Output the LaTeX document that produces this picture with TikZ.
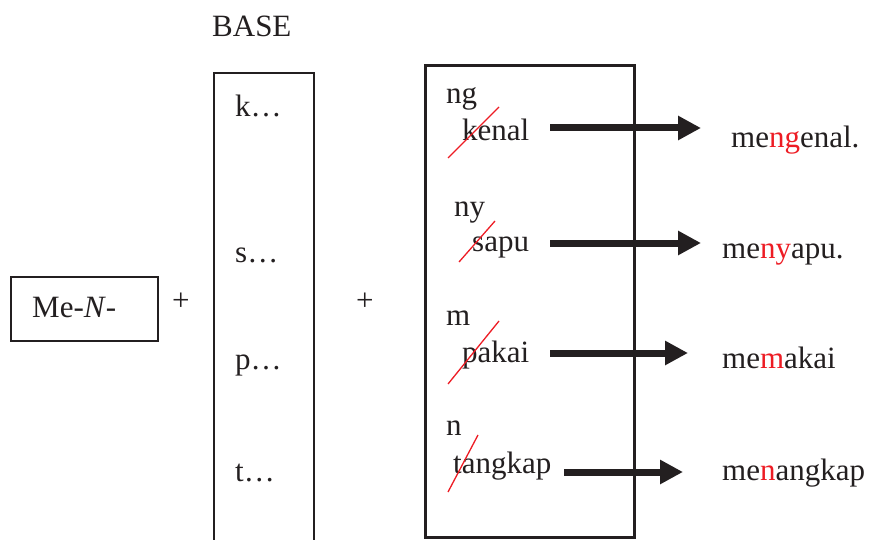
\documentclass[tikz,border=0pt]{standalone}
\usepackage{fontspec}
\setmainfont{Liberation Serif}
\usetikzlibrary{arrows.meta}
\definecolor{ink}{RGB}{35,31,32}
\definecolor{rd}{RGB}{237,28,36}
\tikzset{
  txt/.style={anchor=base west, inner sep=0pt, text=ink, font=\fontsize{31}{36}\selectfont},
  thinbox/.style={draw=ink, line width=1.5pt},
  thickbox/.style={draw=ink, line width=3pt},
  slash/.style={draw=rd, line width=1.3pt},
  bigarrow/.style={draw=ink, line width=7pt, -{Triangle[length=23pt,width=23pt]}}
}
\newcommand{\rdt}[1]{\textcolor{rd}{#1}}
\begin{document}
\begin{tikzpicture}[x=1pt,y=-1pt]
\useasboundingbox (0,0) rectangle (872,540);
% left box
\node[thinbox, minimum width=147pt, minimum height=64pt, anchor=north west, inner sep=0pt] (menbox) at (10,276) {};
\node[txt] (men) at (32,317) {Me-\textit{N}-};
\node[txt] (plus1) at (172,310) {+};
\node[txt] (plus2) at (356,310) {+};
% BASE column
\node[txt] (base) at (212,37) {BASE};
\draw[thinbox] (214,560) -- (214,73) -- (314,73) -- (314,560);
\node[txt] (k) at (235,117) {k…};
\node[txt] (s) at (235,262) {s…};
\node[txt] (p) at (235,369) {p…};
\node[txt] (t) at (235,481) {t…};
% right box
\node[thickbox, minimum width=209pt, minimum height=472pt, anchor=north west, inner sep=0pt] (rbox) at (424,64) {};
\node[txt] (ng) at (446,104) {ng};
\node[txt] (kenal) at (462,141) {kenal};
\node[txt] (ny) at (454,216) {ny};
\node[txt] (sapu) at (472,251) {sapu};
\node[txt] (m) at (446,325) {m};
\node[txt] (pakai) at (462,362) {pakai};
\node[txt] (n) at (446,435) {n};
\node[txt] (tangkap) at (453,473) {tangkap};
% slashes
\coordinate (s1a) at (448,158); \coordinate (s1b) at (499,107);
\coordinate (s2a) at (459,262); \coordinate (s2b) at (495,221);
\coordinate (s3a) at (448,384); \coordinate (s3b) at (499,321);
\coordinate (s4a) at (448,492); \coordinate (s4b) at (478,435);
\draw[slash] (s1a) -- (s1b);
\draw[slash] (s2a) -- (s2b);
\draw[slash] (s3a) -- (s3b);
\draw[slash] (s4a) -- (s4b);
% arrows
\coordinate (a1s) at (550,128); \coordinate (a1e) at (701,128);
\coordinate (a2s) at (550,243); \coordinate (a2e) at (701,243);
\coordinate (a3s) at (550,353); \coordinate (a3e) at (688,353);
\coordinate (a4s) at (564,472); \coordinate (a4e) at (683,472);
\draw[bigarrow] (a1s) -- (a1e);
\draw[bigarrow] (a2s) -- (a2e);
\draw[bigarrow] (a3s) -- (a3e);
\draw[bigarrow] (a4s) -- (a4e);
% results
\node[txt] (r1) at (731,148) {me\rdt{ng}enal.};
\node[txt] (r2) at (722,258) {me\rdt{ny}apu.};
\node[txt] (r3) at (722,368) {me\rdt{m}akai};
\node[txt] (r4) at (722,480) {me\rdt{n}angkap};
\end{tikzpicture}
\end{document}
